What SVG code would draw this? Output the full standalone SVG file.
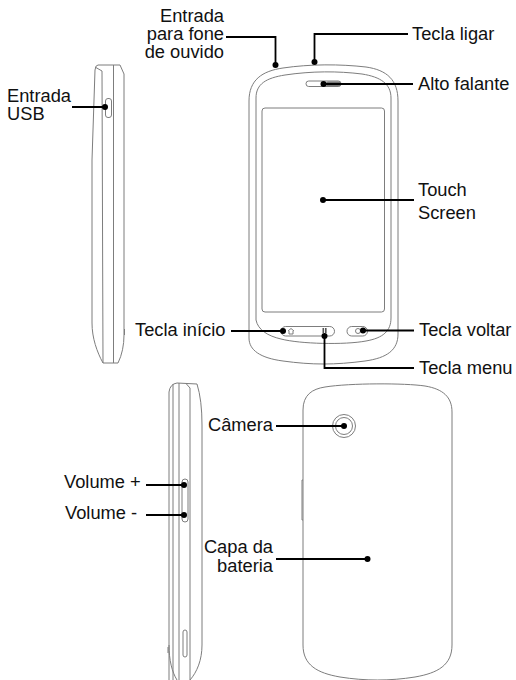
<svg xmlns="http://www.w3.org/2000/svg" width="516" height="680" viewBox="0 0 516 680">
<style>
.o{fill:none;stroke:#7d7d7d;stroke-width:1}
.c{fill:none;stroke:#000;stroke-width:1.800}
.d{fill:#000;stroke:none}
text{font-family:"Liberation Sans",Arial,sans-serif;font-size:18.300px;fill:#111}
.e{text-anchor:end}
</style>
<rect width="516" height="680" fill="#fff"/>
<g id="front-phone">
<path class="o" d="M249 338V101C249 80 262 71 283 68C310 64 340 64 366 67C387 70 398 80 398 101V334C398 350 387 358 365 361C335 365 312 365 283 361C260 358 249 350 249 338Z"/>
<path class="o" d="M256 320V98C256 84 266 78 285 75C312 71 338 71 362 74C381 77 391 84 391 98V318C391 331 383 338 366 341M256 320C258 330 268 336 281 339C300 344 345 345 366 341"/>
<rect class="o" x="262" y="108" width="122.500" height="204" rx="3"/>
<rect class="o" x="306" y="81" width="35" height="5.500" rx="2.700"/>
<rect x="326" y="81.500" width="15" height="5" rx="2" fill="#777"/>
<rect class="o" x="281" y="326.500" width="53.500" height="9.500" rx="4.700"/>
<rect class="o" x="347" y="326.500" width="20.500" height="9.500" rx="4.700"/>
<path class="o" d="M288 331l3-2.500 3 2.500M289 331v3h4v-3"/>
<rect x="322.500" y="328" width="1.600" height="5" fill="#555"/><rect x="325" y="328" width="1.600" height="5" fill="#555"/>
<circle class="o" cx="358" cy="331" r="2.500"/>
</g>
<g id="side-phone-top">
<path class="o" d="M92 323V160L95 70Q95.500 65 98 65H120L124 74V335C124 345 122 355 118 363H103C97 352 92 338 92 323Z"/>
<path class="o" d="M95 67L102 71L103 363M113.500 65V363"/>
<rect class="o" x="105.500" y="98.500" width="6" height="19" rx="2.500"/>
<path class="o" d="M124.500 329V335"/>
</g>
<g id="side-phone-bottom">
<path class="o" d="M169 680V392Q170 384 177 383L197 384Q202 400 202 425V645C202 660 197 672 190 680M169 645C169 660 172 672 177 680"/>
<path class="o" d="M173 680V384M179 680V383M190 680V388L186 383.500"/>
<rect class="o" x="182" y="479" width="6" height="43" rx="3"/>
<rect class="o" x="183" y="630" width="4" height="27" rx="2"/>
<path class="o" d="M168 647V653"/>
</g>
<g id="back-phone">
<path class="o" d="M303 645V410C303 395 312 389 325 387C350 383 405 383 425 386C443 389 452 397 452 412V645C452 665 438 673 415 677C390 681 365 681 340 677C317 673 303 665 303 645Z"/>
<path class="o" d="M303 480H302V520H303"/>
<circle class="o" cx="344" cy="426" r="11.500"/>
<circle class="o" cx="344" cy="426" r="8.500"/>
</g>
<g id="connectors">
<path class="c" d="M226 37H275.500V65"/><circle class="d" cx="275.500" cy="65" r="3"/>
<path class="c" d="M408 34H314.500V62"/><circle class="d" cx="314.500" cy="62" r="3"/>
<path class="c" d="M413 84H323.500"/><circle class="d" cx="323.500" cy="84" r="3"/>
<path class="c" d="M414 200H323"/><circle class="d" cx="323" cy="200" r="3"/>
<path class="c" d="M72 107H105"/><circle class="d" cx="105" cy="107" r="3"/>
<path class="c" d="M231 331H283"/><circle class="d" cx="283" cy="331" r="3"/>
<path class="c" d="M414 330.500H363"/><circle class="d" cx="363" cy="330.500" r="3"/>
<path class="c" d="M414 368H324.500V336"/><circle class="d" cx="324.500" cy="336" r="3"/>
<path class="c" d="M276 426H344"/><circle class="d" cx="344" cy="426" r="3"/>
<path class="c" d="M276 559H367.500"/><circle class="d" cx="367.500" cy="559" r="3"/>
<path class="c" d="M146 485H184"/><circle class="d" cx="184" cy="485" r="3"/>
<path class="c" d="M146 515H184"/><circle class="d" cx="184" cy="515" r="3"/>
</g>
<g id="labels">
<text class="e" x="224" y="22">Entrada</text>
<text class="e" x="224" y="40">para fone</text>
<text class="e" x="224" y="58">de ouvido</text>
<text x="412" y="40">Tecla ligar</text>
<text x="418" y="90">Alto falante</text>
<text x="418" y="196">Touch</text>
<text x="418" y="219">Screen</text>
<text x="7" y="102">Entrada</text>
<text x="7" y="120">USB</text>
<text x="135" y="336">Tecla início</text>
<text x="419" y="336">Tecla voltar</text>
<text x="419" y="374">Tecla menu</text>
<text class="e" x="273" y="431">Câmera</text>
<text class="e" x="273" y="553">Capa da</text>
<text class="e" x="273" y="572">bateria</text>
<text x="64" y="488">Volume +</text>
<text x="65" y="519">Volume -</text>
</g>
</svg>
